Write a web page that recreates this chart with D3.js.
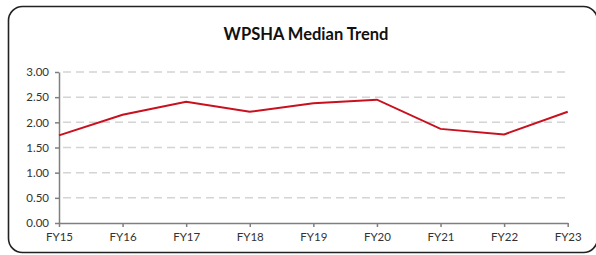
<!DOCTYPE html>
<html>
<head>
<meta charset="utf-8">
<script src="https://cdn.jsdelivr.net/npm/d3@7"></script>
<style>
  body { margin: 0; background: #fff; }
  text { font-family: Lato, "Open Sans", sans-serif; }
</style>
</head>
<body>
<div id="container"></div>
<script>
/* CONSTANTS AND GLOBALS */
const width = 596,
  height = 255,
  margin = { top: 72, bottom: 32, left: 59, right: 28 };

/* DATA */
const years = ["FY15", "FY16", "FY17", "FY18", "FY19", "FY20", "FY21", "FY22", "FY23"];
const medians = [1.74, 2.15, 2.41, 2.21, 2.38, 2.45, 1.87, 1.76, 2.21];
const yTicks = [0, 0.5, 1, 1.5, 2, 2.5, 3];

const data = years.map((y, i) => ({ year: y, value: medians[i] }));

/* SCALES */
const xScale = d3.scalePoint()
  .domain(years)
  .range([margin.left, width - margin.right - 0.3]);

const yScale = d3.scaleLinear()
  .domain([0, 3])
  .range([height - margin.bottom, margin.top]);

/* SVG */
const svg = d3.select("#container")
  .append("svg")
  .attr("width", width)
  .attr("height", height);

// chart border
svg.append("rect")
  .attr("x", 8.5)
  .attr("y", 6.5)
  .attr("width", 589)
  .attr("height", 246)
  .attr("rx", 14)
  .attr("fill", "#fff")
  .attr("stroke", "#222")
  .attr("stroke-width", 1.6);

// title
svg.append("text")
  .attr("x", 306)
  .attr("y", 40)
  .attr("text-anchor", "middle")
  .attr("font-size", 16.5)
  .attr("font-weight", "bold")
  .attr("fill", "#111")
  .text("WPSHA Median Trend");

// gridlines
svg.append("g")
  .selectAll("line")
  .data(yTicks.filter(d => d > 0))
  .join("line")
  .attr("x1", margin.left + 4)
  .attr("x2", width - margin.right)
  .attr("y1", d => yScale(d))
  .attr("y2", d => yScale(d))
  .attr("stroke", "#d4d4d4")
  .attr("stroke-width", 1.5)
  .attr("stroke-dasharray", "8,5");

// y axis
const yAxis = d3.axisLeft(yScale)
  .tickValues(yTicks)
  .tickFormat(d3.format(".2f"))
  .tickSize(4)
  .tickSizeOuter(0)
  .tickPadding(6);

const gy = svg.append("g")
  .attr("transform", `translate(${margin.left},0)`)
  .call(yAxis);

// x axis
const xAxis = d3.axisBottom(xScale)
  .tickSize(4)
  .tickSizeOuter(0)
  .tickPadding(6);

const gx = svg.append("g")
  .attr("transform", `translate(0,${height - margin.bottom})`)
  .call(xAxis);

[gx, gy].forEach(g => {
  g.select(".domain").attr("stroke", "#7f7f7f").attr("stroke-width", 1.5);
  g.selectAll(".tick line").attr("stroke", "#7f7f7f").attr("stroke-width", 1.5);
  g.selectAll(".tick text")
    .attr("font-family", "Lato, 'Open Sans', sans-serif")
    .attr("font-size", 11.5)
    .attr("fill", "#333");
});

// line
const line = d3.line()
  .x(d => xScale(d.year))
  .y(d => yScale(d.value));

svg.append("path")
  .datum(data)
  .attr("fill", "none")
  .attr("stroke", "#c8101e")
  .attr("stroke-width", 2)
  .attr("stroke-linejoin", "miter")
  .attr("d", line);
</script>
</body>
</html>
